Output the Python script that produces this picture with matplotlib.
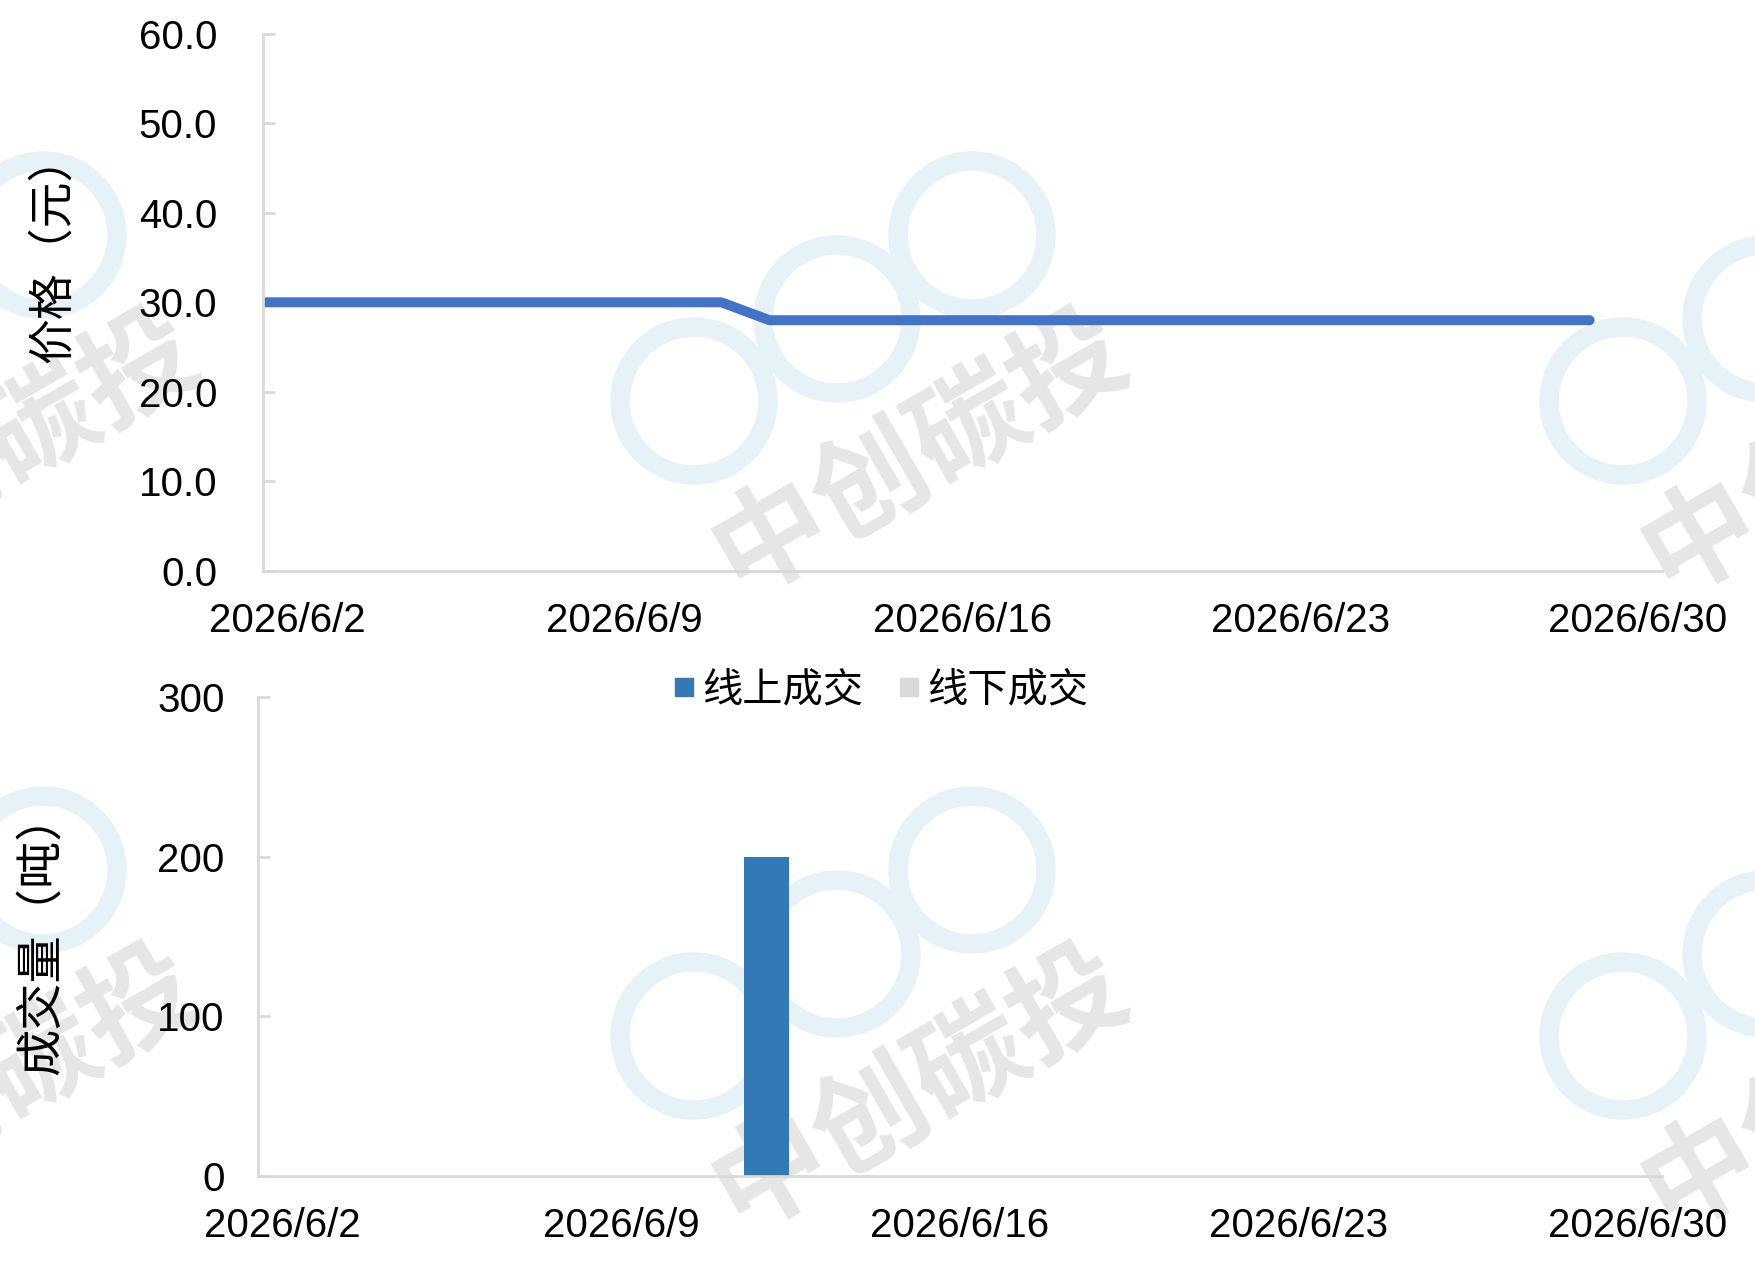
import numpy as np
import pandas as pd
import matplotlib
matplotlib.use("Agg")
import matplotlib.pyplot as plt
import matplotlib.dates as mdates
from matplotlib.lines import Line2D
from matplotlib.patches import Circle

plt.rcParams['font.family'] = ['Liberation Sans', 'Noto Sans CJK SC', 'DejaVu Sans']
CJK = ['Noto Sans CJK SC', 'DejaVu Sans']

# data
dates = pd.date_range("2026-06-01", "2026-06-29", freq="D")
price = [30.0, 30.0, 30.0, 30.0, 30.0, 30.0, 30.0, 30.0, 30.0, 30.0, 30.0,
         28.0, 28.0, 28.0, 28.0, 28.0, 28.0, 28.0, 28.0, 28.0, 28.0, 28.0,
         28.0, 28.0, 28.0, 28.0, 28.0, 28.0, 28.0]
online = [0, 0, 0, 0, 0, 0, 0, 0, 0, 0, 0, 200, 0, 0, 0, 0, 0, 0, 0, 0,
          0, 0, 0, 0, 0, 0, 0, 0, 0]
offline = [0, 0, 0, 0, 0, 0, 0, 0, 0, 0, 0, 0, 0, 0, 0, 0, 0, 0, 0, 0,
           0, 0, 0, 0, 0, 0, 0, 0, 0]
tick_dates = pd.to_datetime(["2026-06-02", "2026-06-09", "2026-06-16", "2026-06-23", "2026-06-30"])
tick_labels = ["2026/6/2", "2026/6/9", "2026/6/16", "2026/6/23", "2026/6/30"]
price_ticks = [0, 10, 20, 30, 40, 50, 60]
vol_ticks = [0, 100, 200, 300]

LINE_C = '#4472C4'
ON_C = '#3279B6'
OFF_C = '#D9D9D9'
AX_C = '#D9D9D9'

W, H = 1755, 1283
fig = plt.figure(figsize=(W / 100, H / 100), dpi=100)

# faint watermarks behind everything (pixel coords -> inches)
def wm(dy):
    for dx in (-929, 0, 929):
        for cx, cy in [(694, 401), (837, 319), (972, 235)]:
            fig.patches.append(Circle(((cx + dx) / 100, (H - cy - dy) / 100), 0.74,
                                      transform=fig.dpi_scale_trans, fill=False,
                                      edgecolor='#E7F2F8', linewidth=14, zorder=-2))
        fig.text((920 + dx) / W, 1 - (453 + dy) / H, "中创碳投", family=CJK,
                 fontsize=82, fontweight='bold', color='#E6E6E6', rotation=30,
                 ha='center', va='center', rotation_mode='anchor', zorder=-1)

wm(0)
wm(635)

xmin = mdates.date2num(pd.Timestamp("2026-06-01 12:00"))
xmax = mdates.date2num(pd.Timestamp("2026-06-30 12:00"))

def style(ax, ticks, fmt, ypad):
    ax.set_facecolor('none')
    for s in ('top', 'right'):
        ax.spines[s].set_visible(False)
    for s in ('left', 'bottom'):
        ax.spines[s].set_color(AX_C)
        ax.spines[s].set_linewidth(2)
    ax.set_xlim(xmin, xmax)
    ax.set_xticks(mdates.date2num(tick_dates))
    ax.set_xticklabels(tick_labels)
    ax.set_yticks(ticks)
    ax.set_yticklabels([fmt.format(t) for t in ticks])
    ax.tick_params(axis='x', length=0, pad=22, labelsize=29)
    ax.tick_params(axis='y', direction='in', length=8.3, width=2, color=AX_C,
                   pad=ypad, labelsize=29)

# price panel
ax1 = fig.add_axes([263 / W, 1 - 571 / H, (1662 - 263) / W, (571 - 33.6) / H])
ax1.plot(mdates.date2num(dates), price, color=LINE_C, linewidth=7.2,
         solid_capstyle='round', solid_joinstyle='round', clip_on=True)
ax1.set_ylim(0, 60)
style(ax1, price_ticks, "{:.1f}", 33)
ax1.set_ylabel("价格（元）", family=CJK, fontsize=33, va='center')
ax1.yaxis.set_label_coords(-0.1504, 0.60)

# volume panel
ax2 = fig.add_axes([258 / W, 1 - 1176 / H, (1662 - 258) / W, (1176 - 697) / H])
xd = mdates.date2num(dates)
ax2.bar(xd, online, width=0.93, color=ON_C, linewidth=0, label="线上成交")
ax2.bar(xd, offline, width=0.93, bottom=online, color=OFF_C, linewidth=0, label="线下成交")
ax2.set_ylim(0, 300)
style(ax2, vol_ticks, "{:d}", 24)
ax2.set_ylabel("成交量（吨）", family=CJK, fontsize=34, va='center')
ax2.yaxis.set_label_coords(-0.1542, 0.507)

handles = [Line2D([], [], marker='s', linestyle='none', markersize=13.4, color=ON_C),
           Line2D([], [], marker='s', linestyle='none', markersize=13.4, color=OFF_C)]
fig.legend(handles, ["线上成交", "线下成交"], loc='center',
           bbox_to_anchor=(881 / W, 1 - 690 / H), ncol=2, frameon=False,
           prop={'family': CJK, 'size': 29}, handlelength=0.5,
           handletextpad=0.2, columnspacing=0.9)

fig.savefig("out.png", dpi=100)
